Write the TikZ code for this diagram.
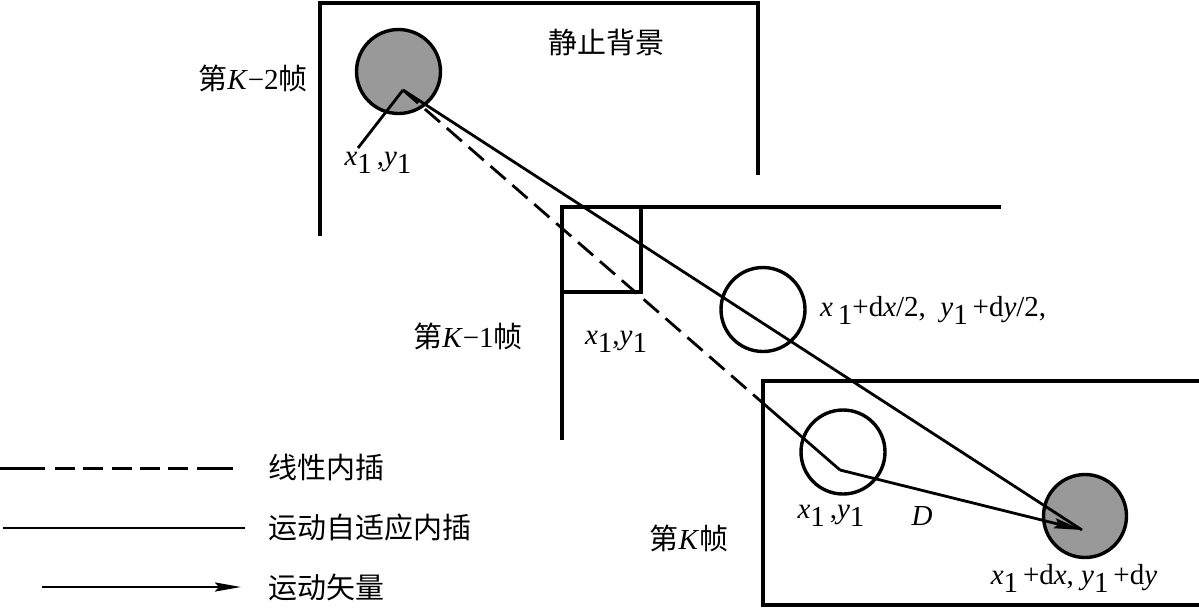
\documentclass[tikz,border=0pt]{standalone}
\usepackage{fontspec}
\setmainfont{Liberation Serif}
\newfontfamily\cjk{Noto Sans CJK SC}
\usetikzlibrary{arrows.meta}
\newcommand{\lowone}{\raisebox{-0.28em}{1}}
\tikzset{
  frame/.style={line width=3.4pt},
  conn/.style={line width=2.8pt},
  dashline/.style={line width=2.8pt, dash pattern=on 20pt off 9pt},
  mvec/.style={line width=2.8pt, -{Stealth[length=28pt,width=10pt,inset=4pt]}},
  obj/.style={circle, draw, line width=3.4pt, minimum size=84pt, inner sep=0pt},
  filled/.style={obj, fill=black!40},
  cjklab/.style={font=\cjk\fontsize{29}{32}\selectfont, inner sep=0pt},
  lab/.style={font=\fontsize{29}{32}\selectfont, inner sep=0pt},
}
\begin{document}
\begin{tikzpicture}[x=1pt,y=-1pt]
\useasboundingbox (0,0) rectangle (1199,614);
% frames
\draw[frame] (320,236) -- (320,3) -- (758,3) -- (758,175);
\draw[frame] (562,440) -- (562,207) -- (1001,207);
\draw[frame] (562,292) -- (641,292) -- (641,207);
\draw[frame] (1199,381) -- (763,381) -- (763,605) -- (1199,605);
% objects
\node[filled] (c2) at (398.5,71.5) {};
\node[obj] (c1) at (763,309.5) {};
\node[obj] (ck) at (843,452) {};
\node[filled, minimum size=83pt] (cm) at (1085,516) {};
\coordinate (p2) at (403,90);
\coordinate (pk) at (840,470);
\coordinate (pe) at (768,407.5);
\coordinate (tip) at (1082,530);
\coordinate (ptr) at (358,148);
% connectors
\draw[conn] (p2) -- (ptr);
\draw[conn] (p2) -- (tip);
\draw[dashline] (p2) -- (pe);
\draw[conn] (pe) -- (pk);
\draw[mvec] (pk) -- (tip);
% labels
\node[cjklab] (bg) at (606,42) {静止背景};
\node[cjklab] (f2) at (253,78) {第\fontspec{Liberation Serif}\textit{K}−2\cjk 帧};
\node[cjklab] (f1) at (468,336) {第\fontspec{Liberation Serif}\textit{K}−1\cjk 帧};
\node[cjklab] (fk) at (689,538) {第\fontspec{Liberation Serif}\textit{K}\cjk 帧};
\node[lab] (l2) at (378,163) {\textit{x}\lowone\,,\textit{y}\lowone};
\node[lab] (l1) at (616,342) {\textit{x}\lowone,\textit{y}\lowone};
\node[lab, anchor=west] (lm) at (820,310) {\textit{x}\,\lowone+d\textit{x}/2,\ \ \textit{y}\lowone\,+d\textit{y}/2,};
\node[lab] (lk) at (831,516) {\textit{x}\lowone\,,\textit{y}\lowone};
\node[lab] (ld) at (922,516) {\textit{D}};
\node[lab] (le) at (1074,578) {\textit{x}\lowone\,+d\textit{x},\ \textit{y}\lowone\,+d\textit{y}};
% legend
\coordinate (a1) at (0,468); \coordinate (a2) at (233,468);
\coordinate (b1) at (3,528); \coordinate (b2) at (245,528);
\coordinate (m1) at (42,587); \coordinate (m2) at (241,587);
\draw[line width=3pt, dash pattern=on 45pt off 10pt on 20pt off 8pt on 20pt off 9pt on 20pt off 8pt on 20pt off 8pt on 20pt off 9pt on 40pt off 100pt] (a1) -- (a2);
\draw[conn] (b1) -- (b2);
\draw[line width=2.8pt, -{Stealth[length=26pt,width=9pt,inset=4pt]}] (m1) -- (m2);
\node[cjklab, anchor=west] (t1) at (268,467) {线性内插};
\node[cjklab, anchor=west] (t2) at (268,527) {运动自适应内插};
\node[cjklab, anchor=west] (t3) at (268,587) {运动矢量};
\end{tikzpicture}
\end{document}
